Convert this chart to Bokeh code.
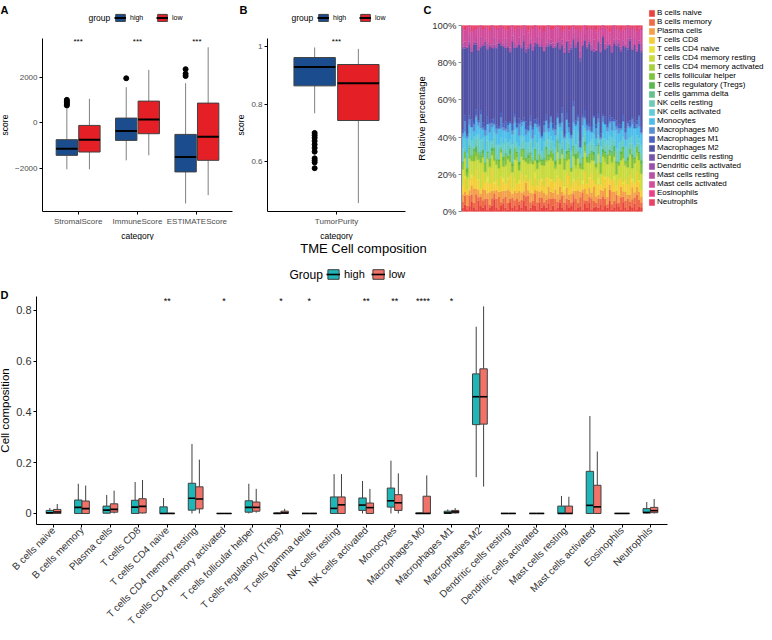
import numpy as np
from bokeh.plotting import figure
from bokeh.models import (ColumnDataSource, Legend, LegendItem, Label, FixedTicker,
                          Range1d, NumeralTickFormatter)
from bokeh.layouts import column, row
from bokeh.embed import file_html
from bokeh.resources import INLINE

FONT = "Liberation Sans"
HIGH_AB = "#1b4d8e"
LOW_AB = "#e41f26"
HIGH_D = "#1fb6b8"
LOW_D = "#f07268"

# ---------------- Panel A data (ESTIMATE scores) ----------------
a_categories = ["StromalScore", "ImmuneScore", "ESTIMATEScore"]
a_high_lo = [-2050, -1656, -3560]
a_high_q1 = [-1437, -777, -2168]
a_high_med = [-1143, -366, -1509]
a_high_q3 = [-747, 205, -513]
a_high_hi = [615, 1568, 1745]
a_low_lo = [-2050, -1436, -3194]
a_low_q1 = [-1290, -483, -1656]
a_low_med = [-747, 147, -615]
a_low_q3 = [-117, 954, 866]
a_low_hi = [1055, 2330, 3327]
a_out_cat = [0, 0, 0, 0, 0, 1, 2, 2, 2]
a_out_val = [1010, 950, 880, 820, 760, 1960, 2060, 2160, 2360]
a_sig = ["***", "***", "***"]
a_ticks = [-2000, 0, 2000]

# ---------------- Panel B data (Tumor purity) ----------------
b_categories = ["TumorPurity"]
b_high = dict(lo=[0.768], q1=[0.863], med=[0.928], q3=[0.961], hi=[0.996])
b_low = dict(lo=[0.457], q1=[0.743], med=[0.872], q3=[0.937], hi=[0.991])
b_out_val = [0.700, 0.692, 0.683, 0.672, 0.660, 0.648, 0.635, 0.612, 0.605, 0.598, 0.578]
b_sig = ["***"]
b_ticks = [0.6, 0.8, 1.0]

# ---------------- Panel C data (relative composition per sample, %) ----------------
cell_types = ["B cells naive", "B cells memory", "Plasma cells", "T cells CD8",
              "T cells CD4 naive", "T cells CD4 memory resting",
              "T cells CD4 memory activated", "T cells follicular helper",
              "T cells regulatory (Tregs)", "T cells gamma delta", "NK cells resting",
              "NK cells activated", "Monocytes", "Macrophages M0", "Macrophages M1",
              "Macrophages M2", "Dendritic cells resting", "Dendritic cells activated",
              "Mast cells resting", "Mast cells activated", "Eosinophils", "Neutrophils"]
cell_colors = ["#e8433f", "#ee6b4a", "#f4a04a", "#f3cf3a", "#e8e43f", "#c9db3d",
               "#a8cf3e", "#7dc241", "#5cb84c", "#66c08c", "#6ccbb8", "#5fccd8",
               "#4dbdeb", "#5a8fd4", "#4a62c0", "#5152a6", "#7455aa", "#9a4faa",
               "#b850a4", "#d24e9d", "#e8418a", "#e84367"]

b_naive = [2, 4, 1, 3, 5, 2, 1, 6, 3, 2, 4, 1, 2, 3, 7, 2, 1, 3, 4, 2, 1, 5, 2, 3, 1, 4, 2, 6, 3, 1, 2, 4, 3, 1, 5, 2, 3, 2, 4, 1,
           3, 1, 2, 5, 2, 1, 4, 2, 3, 6, 1, 2, 3, 1, 4, 2, 5, 1, 2, 3, 2, 4, 1, 3, 2, 6, 1, 2, 4, 3, 1, 5, 2, 1, 3, 2, 4, 1, 3, 2]
b_memory = [3, 5, 2, 6, 4, 3, 8, 2, 5, 4, 3, 6, 2, 4, 3, 5, 7, 2, 3, 6, 4, 2, 5, 3, 6, 2, 4, 3, 5, 8, 3, 2, 6, 4, 3, 5, 2, 4, 3, 6,
            4, 6, 3, 2, 7, 4, 3, 5, 2, 4, 6, 3, 5, 9, 2, 4, 3, 6, 4, 2, 5, 3, 7, 4, 2, 6, 3, 4, 5, 2, 7, 3, 4, 6, 2, 5, 3, 8, 4, 3]
plasma = [4, 2, 6, 3, 5, 8, 3, 4, 2, 6, 5, 3, 7, 4, 2, 5, 3, 6, 4, 3, 8, 4, 2, 5, 3, 6, 4, 2, 7, 3, 5, 4, 2, 6, 3, 4, 5, 3, 6, 4,
          3, 5, 4, 7, 2, 4, 6, 3, 5, 2, 4, 7, 3, 2, 6, 4, 5, 3, 8, 4, 2, 5, 3, 6, 4, 3, 7, 5, 2, 4, 6, 3, 5, 2, 4, 7, 3, 4, 5, 3]
cd8 = [5, 8, 3, 6, 4, 7, 10, 5, 3, 9, 4, 6, 5, 12, 4, 6, 3, 8, 5, 4, 6, 9, 3, 7, 5, 4, 10, 6, 3, 5, 8, 4, 6, 3, 7, 5, 4, 9, 5, 6,
       7, 4, 9, 5, 6, 3, 8, 11, 4, 6, 5, 7, 4, 3, 9, 6, 5, 10, 4, 7, 6, 3, 8, 5, 11, 4, 6, 7, 3, 9, 5, 4, 7, 6, 10, 3, 5, 8, 6, 4]
cd4_naive = [0, 1, 0, 0, 2, 0, 0, 1, 0, 0, 0, 3, 0, 0, 1, 0, 0, 0, 2, 0, 1, 0, 0, 0, 0, 2, 0, 0, 1, 0, 0, 0, 3, 0, 0, 1, 0, 0, 0, 1,
             0, 0, 1, 0, 0, 2, 0, 0, 0, 1, 0, 0, 0, 2, 0, 0, 1, 0, 0, 0, 3, 0, 0, 1, 0, 0, 0, 2, 0, 0, 0, 1, 0, 0, 0, 2, 0, 0, 1, 0]
cd4_mem_rest = [8, 10, 6, 12, 7, 9, 5, 11, 14, 8, 6, 10, 9, 7, 12, 8, 10, 13, 6, 9, 11, 7, 8, 10, 12, 6, 9, 11, 7, 10, 8, 12, 6, 9, 10, 7, 11, 8, 9, 12,
                10, 7, 12, 8, 15, 9, 6, 10, 8, 13, 7, 11, 9, 6, 10, 12, 8, 7, 11, 9, 13, 6, 10, 8, 7, 12, 9, 11, 6, 8, 10, 13, 7, 9, 11, 6, 10, 8, 12, 9]
cd4_mem_act = [0, 0, 1, 0, 0, 0, 2, 0, 0, 0, 0, 0, 1, 0, 0, 0, 0, 0, 0, 1, 0, 0, 0, 0, 2, 0, 0, 0, 0, 0, 1, 0, 0, 0, 0, 0, 0, 1, 0, 0,
               0, 1, 0, 0, 0, 0, 1, 0, 0, 0, 2, 0, 0, 0, 1, 0, 0, 0, 0, 1, 0, 0, 0, 2, 0, 0, 1, 0, 0, 0, 0, 0, 1, 0, 0, 0, 0, 2, 0, 0]
tfh = [3, 4, 2, 5, 3, 6, 2, 4, 3, 2, 5, 3, 4, 2, 6, 3, 4, 2, 3, 5, 2, 4, 3, 6, 2, 3, 4, 5, 2, 3, 4, 2, 5, 3, 4, 2, 3, 5, 2, 4,
       4, 2, 5, 3, 2, 6, 3, 4, 2, 5, 3, 4, 2, 6, 3, 2, 5, 4, 3, 2, 4, 6, 2, 3, 5, 2, 4, 3, 6, 2, 3, 5, 2, 4, 3, 6, 2, 3, 4, 5]
tregs = [1, 0, 2, 1, 0, 1, 3, 0, 1, 2, 0, 1, 0, 2, 1, 0, 1, 0, 2, 1, 0, 3, 1, 0, 1, 2, 0, 1, 0, 2, 1, 0, 1, 2, 0, 1, 0, 2, 1, 0,
         0, 2, 1, 0, 1, 0, 2, 1, 0, 1, 3, 0, 1, 0, 2, 1, 0, 1, 2, 0, 1, 0, 2, 1, 0, 1, 0, 3, 1, 0, 2, 1, 0, 1, 0, 2, 1, 0, 1, 2]
gamma_delta = [0, 0, 0, 1, 0, 0, 0, 0, 2, 0, 0, 0, 0, 0, 1, 0, 0, 0, 0, 0, 0, 0, 1, 0, 0, 0, 0, 0, 0, 1, 0, 0, 0, 0, 0, 0, 1, 0, 0, 0,
               0, 0, 1, 0, 0, 0, 0, 2, 0, 0, 0, 0, 0, 1, 0, 0, 0, 0, 0, 0, 1, 0, 0, 0, 0, 0, 2, 0, 0, 0, 0, 0, 0, 1, 0, 0, 0, 0, 0, 1]
nk_rest = [4, 2, 6, 3, 5, 1, 4, 7, 2, 5, 3, 6, 4, 2, 5, 3, 7, 2, 4, 6, 3, 2, 5, 4, 3, 6, 2, 5, 4, 3, 6, 2, 4, 5, 3, 2, 6, 4, 3, 5,
           3, 5, 2, 6, 4, 3, 5, 2, 7, 4, 2, 5, 3, 6, 4, 2, 5, 3, 4, 6, 2, 4, 5, 3, 6, 2, 4, 3, 5, 7, 3, 4, 2, 5, 3, 6, 4, 2, 5, 3]
nk_act = [3, 5, 2, 4, 3, 6, 2, 3, 5, 2, 4, 3, 6, 2, 3, 5, 2, 4, 3, 2, 5, 3, 4, 6, 2, 3, 5, 2, 4, 3, 2, 5, 3, 4, 6, 2, 3, 4, 5, 3,
          4, 2, 5, 3, 6, 2, 4, 3, 2, 5, 3, 6, 2, 4, 3, 5, 2, 3, 6, 4, 2, 5, 3, 4, 2, 6, 3, 5, 2, 4, 3, 2, 6, 4, 3, 5, 2, 4, 3, 5]
monocytes = [6, 4, 8, 5, 7, 3, 9, 5, 6, 4, 8, 6, 5, 7, 4, 6, 8, 5, 7, 4, 6, 9, 5, 4, 7, 6, 5, 8, 4, 6, 7, 5, 6, 8, 4, 7, 5, 6, 4, 8,
             5, 7, 4, 9, 5, 6, 8, 4, 7, 5, 10, 6, 4, 7, 5, 8, 6, 4, 9, 5, 7, 4, 6, 8, 5, 7, 4, 6, 10, 5, 6, 8, 4, 7, 5, 6, 9, 4, 7, 6]
mac_m0 = [2, 6, 1, 3, 0, 4, 1, 2, 8, 1, 3, 0, 5, 2, 1, 3, 0, 6, 2, 1, 4, 0, 2, 3, 1, 7, 2, 0, 3, 1, 2, 5, 0, 2, 3, 1, 4, 0, 2, 3,
          1, 3, 0, 2, 5, 1, 0, 3, 2, 9, 1, 2, 0, 4, 1, 3, 2, 0, 1, 6, 2, 1, 3, 0, 2, 1, 5, 0, 2, 3, 1, 0, 4, 2, 1, 3, 0, 2, 6, 1]
mac_m1 = [2, 3, 1, 2, 4, 2, 3, 1, 2, 3, 2, 4, 1, 2, 3, 2, 1, 3, 2, 4, 2, 1, 3, 2, 2, 3, 1, 2, 4, 2, 3, 1, 2, 3, 2, 1, 2, 3, 2, 1,
          3, 2, 2, 1, 3, 2, 4, 2, 1, 3, 2, 2, 3, 1, 4, 2, 2, 3, 1, 2, 3, 2, 1, 4, 2, 3, 2, 1, 3, 2, 2, 4, 2, 1, 3, 2, 3, 2, 1, 3]
mac_m2 = [42, 38, 46, 40, 36, 44, 34, 39, 35, 41, 45, 37, 43, 38, 40, 42, 46, 36, 41, 39, 44, 37, 42, 35, 40, 43, 38, 41, 36, 44, 39, 42, 37, 40, 43, 45, 38, 36, 41, 39,
          40, 43, 37, 41, 35, 44, 38, 42, 46, 36, 39, 41, 45, 38, 37, 42, 44, 40, 36, 43, 38, 45, 41, 37, 42, 39, 35, 43, 40, 44, 41, 37, 45, 39, 42, 38, 40, 36, 43, 41]
dc_rest = [0, 1, 0, 0, 0, 0, 1, 0, 0, 0, 2, 0, 0, 0, 0, 1, 0, 0, 0, 0, 0, 1, 0, 0, 0, 0, 0, 1, 0, 0, 0, 0, 2, 0, 0, 0, 0, 0, 1, 0,
           0, 0, 0, 1, 0, 0, 0, 0, 1, 0, 0, 0, 2, 0, 0, 0, 1, 0, 0, 0, 0, 0, 0, 0, 1, 0, 0, 0, 0, 2, 0, 0, 0, 1, 0, 0, 0, 0, 0, 1]
dc_act = [1, 0, 0, 2, 0, 1, 0, 0, 1, 0, 0, 0, 1, 0, 2, 0, 0, 1, 0, 0, 1, 0, 0, 0, 1, 0, 0, 0, 2, 0, 0, 1, 0, 0, 0, 1, 0, 0, 0, 1,
          0, 1, 0, 0, 1, 0, 0, 2, 0, 0, 1, 0, 0, 0, 0, 1, 0, 0, 2, 0, 0, 1, 0, 0, 0, 0, 1, 0, 0, 0, 2, 0, 0, 0, 1, 0, 0, 1, 0, 0]
mast_rest = [2, 3, 1, 4, 2, 1, 3, 2, 5, 1, 2, 3, 1, 2, 4, 2, 3, 1, 2, 5, 1, 2, 3, 2, 1, 4, 2, 3, 1, 2, 3, 2, 1, 4, 2, 3, 1, 2, 3, 2,
             3, 1, 2, 4, 2, 3, 1, 5, 2, 3, 1, 2, 4, 2, 3, 1, 2, 3, 5, 1, 2, 4, 1, 3, 2, 1, 3, 2, 4, 2, 1, 3, 2, 5, 1, 2, 3, 1, 2, 4]
mast_act = [8, 6, 10, 5, 9, 7, 4, 11, 6, 8, 5, 9, 7, 10, 6, 8, 5, 9, 7, 6, 8, 11, 5, 7, 9, 6, 8, 5, 10, 7, 6, 9, 8, 5, 7, 6, 10, 8, 7, 6,
            7, 9, 6, 8, 5, 10, 7, 6, 9, 5, 8, 6, 11, 7, 5, 9, 6, 8, 7, 10, 6, 8, 5, 9, 7, 6, 10, 8, 5, 7, 9, 6, 8, 7, 5, 10, 6, 9, 7, 8]
eosinophils = [0, 1, 0, 0, 0, 1, 0, 0, 0, 0, 1, 0, 0, 0, 0, 0, 1, 0, 0, 0, 0, 0, 0, 1, 0, 0, 0, 0, 0, 1, 0, 0, 0, 0, 1, 0, 0, 0, 0, 0,
               0, 0, 1, 0, 0, 0, 0, 1, 0, 0, 0, 0, 0, 1, 0, 0, 0, 0, 0, 1, 0, 0, 0, 0, 0, 1, 0, 0, 0, 0, 0, 1, 0, 0, 0, 0, 0, 0, 1, 0]
neutrophils = [1, 2, 1, 0, 3, 1, 2, 1, 0, 2, 1, 1, 3, 0, 1, 2, 1, 0, 2, 1, 3, 1, 0, 2, 1, 1, 2, 0, 1, 3, 1, 2, 0, 1, 2, 1, 3, 1, 0, 2,
               2, 1, 0, 1, 3, 2, 1, 2, 1, 0, 2, 1, 3, 1, 0, 2, 1, 2, 1, 3, 1, 2, 0, 1, 2, 3, 1, 0, 2, 1, 3, 1, 2, 0, 1, 2, 1, 3, 1, 2]

c_series = [b_naive, b_memory, plasma, cd8, cd4_naive, cd4_mem_rest, cd4_mem_act, tfh,
            tregs, gamma_delta, nk_rest, nk_act, monocytes, mac_m0, mac_m1, mac_m2,
            dc_rest, dc_act, mast_rest, mast_act, eosinophils, neutrophils]
c_ticks = [0, 0.2, 0.4, 0.6, 0.8, 1.0]

# ---------------- Panel D data (box statistics per cell type) ----------------
d_cells = cell_types
d_high_lo = [0, 0, 0, 0, 0, 0, 0, 0, 0, 0, 0, 0, 0, 0, 0, 0.143, 0, 0, 0, 0, 0, 0]
d_high_q1 = [0, 0, 0.001, 0, 0, 0.013, 0, 0.005, 0, 0, 0, 0.012, 0.025, 0, 0, 0.350, 0, 0, 0, 0, 0, 0.002]
d_high_med = [0.003, 0.024, 0.013, 0.025, 0, 0.060, 0, 0.024, 0, 0, 0.020, 0.033, 0.050, 0, 0.002, 0.460, 0, 0, 0, 0.032, 0, 0.004]
d_high_q3 = [0.012, 0.053, 0.029, 0.052, 0.026, 0.119, 0, 0.050, 0.002, 0, 0.065, 0.061, 0.100, 0.002, 0.009, 0.550, 0, 0, 0.029, 0.166, 0, 0.019]
d_high_hi = [0.021, 0.117, 0.073, 0.124, 0.061, 0.274, 0, 0.117, 0.004, 0, 0.155, 0.128, 0.208, 0.004, 0.016, 0.736, 0, 0, 0.069, 0.384, 0, 0.045]
d_low_lo = [0, 0, 0, 0, 0, 0, 0, 0.003, 0, 0, 0, 0, 0, 0, 0, 0.106, 0, 0, 0, 0, 0, 0]
d_low_q1 = [0, 0, 0.005, 0.002, 0, 0.018, 0, 0.009, 0, 0, 0, 0, 0.012, 0, 0.002, 0.352, 0, 0, 0, 0, 0, 0.003]
d_low_med = [0.006, 0.019, 0.016, 0.028, 0, 0.057, 0, 0.024, 0.002, 0, 0.034, 0.023, 0.042, 0, 0.006, 0.460, 0, 0, 0, 0.026, 0, 0.011]
d_low_q3 = [0.016, 0.049, 0.038, 0.058, 0.001, 0.105, 0, 0.045, 0.009, 0, 0.065, 0.041, 0.074, 0.068, 0.012, 0.570, 0, 0, 0.029, 0.111, 0, 0.024]
d_low_hi = [0.037, 0.110, 0.090, 0.132, 0.002, 0.212, 0, 0.097, 0.018, 0, 0.155, 0.097, 0.158, 0.150, 0.021, 0.816, 0, 0, 0.066, 0.244, 0, 0.057]
d_sig_idx = [4, 6, 8, 9, 11, 12, 13, 14]
d_sig_lab = ["**", "*", "*", "*", "**", "**", "****", "*"]
d_ticks = [0, 0.2, 0.4, 0.6, 0.8]


def region_fig(fx, fy, W, H, region, dx, dy):
    """Figure whose frame fills the whole canvas; the data panel occupies `region`
    (page pixels: left, right, top, bottom) and axes are pinned to the panel edges."""
    x0, x1, y0, y1 = region
    sx = (x1 - x0) / (dx[1] - dx[0])
    sy = (y1 - y0) / (dy[1] - dy[0])
    xr = Range1d(dx[0] - (x0 - fx) / sx, dx[1] + (fx + W - x1) / sx)
    yr = Range1d(dy[0] - (fy + H - y1) / sy, dy[1] + (y0 - fy) / sy)
    p = figure(width=W, height=H, x_range=xr, y_range=yr, output_backend="svg",
               toolbar_location=None, min_border=0)
    p.grid.visible = False
    p.outline_line_color = None
    p.xaxis.fixed_location = dy[0]
    p.xaxis.bounds = (dx[0], dx[1])
    p.yaxis.fixed_location = dx[0]
    p.yaxis.bounds = (dy[0], dy[1])
    p._page = (fx, fy, W, H)
    return p


def style_axes(p, tick_size, title_size, line_color="black", label_color="#4d4d4d"):
    for ax in p.axis:
        ax.axis_line_color = line_color
        ax.major_tick_line_color = line_color
        ax.minor_tick_line_color = None
        ax.major_tick_out = 3
        ax.major_tick_in = 0
        ax.major_label_text_font = FONT
        ax.major_label_text_font_size = tick_size
        ax.major_label_text_color = label_color
        ax.axis_label_text_font = FONT
        ax.axis_label_text_font_size = title_size
        ax.axis_label_text_font_style = "normal"
        ax.axis_label_text_color = "black"
        ax.major_label_standoff = 2
        ax.axis_label_standoff = 2


def draw_boxes(p, centers, lo, q1, med, q3, hi, fill, width, edge, whisk, med_w):
    left = [c - width / 2 for c in centers]
    right = [c + width / 2 for c in centers]
    src = ColumnDataSource(dict(x=centers, lo=lo, q1=q1, med=med, q3=q3, hi=hi,
                                left=left, right=right))
    p.segment(x0="x", y0="q3", x1="x", y1="hi", source=src, line_color=whisk, line_width=1)
    p.segment(x0="x", y0="lo", x1="x", y1="q1", source=src, line_color=whisk, line_width=1)
    box = p.vbar(x="x", width=width, bottom="q1", top="q3", source=src,
                 fill_color=fill, line_color=edge, line_width=1)
    med_r = p.segment(x0="left", y0="med", x1="right", y1="med", source=src,
                      line_color="black", line_width=med_w)
    return box, med_r


def add_label(p, text, px, py, size, bold=False, align="left", baseline="top"):
    fx, fy, W, H = p._page
    p.add_layout(Label(x=px - fx, y=fy + H - py, x_units="screen", y_units="screen",
                       text=text, text_font=FONT, text_font_size=size,
                       text_font_style="bold" if bold else "normal",
                       text_align=align, text_baseline=baseline, text_color="black"))


def add_legend(p, items, px, py_bottom, gw, gh, size, standoff, spacing, orientation="horizontal"):
    fx, fy, W, H = p._page
    leg = Legend(items=items, orientation=orientation,
                 location=(px - fx, fy + H - py_bottom),
                 glyph_width=gw, glyph_height=gh, label_height=gh, label_standoff=standoff,
                 spacing=spacing, padding=0, margin=0, border_line_color=None,
                 background_fill_alpha=0, label_text_font=FONT, label_text_font_size=size,
                 label_text_color="black")
    p.add_layout(leg)


OFF = 0.19
BW = 0.36

# ---------------- Panel A ----------------
pA = region_fig(2, 2, 234, 240, (44, 234, 40, 213), (-0.6, 2.6), (-3912, 3714))
xa = np.arange(len(a_categories))
bAh, mAh = draw_boxes(pA, list(xa - OFF), a_high_lo, a_high_q1, a_high_med, a_high_q3, a_high_hi,
                      HIGH_AB, BW, "#404040", "#808080", 2)
bAl, mAl = draw_boxes(pA, list(xa + OFF), a_low_lo, a_low_q1, a_low_med, a_low_q3, a_low_hi,
                      LOW_AB, BW, "#404040", "#808080", 2)
pA.scatter(x=[c - OFF for c in a_out_cat], y=a_out_val, size=5, color="black")
pA.text(x=list(xa), y=[3560] * 3, text=a_sig, text_font_size="8px", text_align="center",
        text_baseline="middle", text_color="black")
pA.xaxis.ticker = FixedTicker(ticks=list(xa))
pA.xaxis.major_label_overrides = {int(i): c for i, c in enumerate(a_categories)}
pA.yaxis.ticker = FixedTicker(ticks=a_ticks)
pA.xaxis.axis_label = "category"
pA.yaxis.axis_label = "score"
style_axes(pA, "8px", "8.5px")
add_label(pA, "A", 2, 5, "11px", bold=True)
add_label(pA, "group", 90, 19, "8.5px", baseline="middle")
add_legend(pA, [LegendItem(label="high", renderers=[bAh, mAh]),
                LegendItem(label="low", renderers=[bAl, mAl])],
           116, 24, 12, 9, "7px", 4, 6)

# ---------------- Panel B ----------------
pB = region_fig(236, 2, 182, 240, (269, 407, 40, 213), (-0.6, 0.6), (0.428, 1.027))
bBh, mBh = draw_boxes(pB, [-OFF], b_high["lo"], b_high["q1"], b_high["med"], b_high["q3"],
                      b_high["hi"], HIGH_AB, BW, "#404040", "#808080", 2)
bBl, mBl = draw_boxes(pB, [OFF], b_low["lo"], b_low["q1"], b_low["med"], b_low["q3"],
                      b_low["hi"], LOW_AB, BW, "#404040", "#808080", 2)
pB.scatter(x=[-OFF] * len(b_out_val), y=b_out_val, size=5, color="black")
pB.text(x=[0], y=[1.016], text=b_sig, text_font_size="8px", text_align="center",
        text_baseline="middle", text_color="black")
pB.xaxis.ticker = FixedTicker(ticks=[0])
pB.xaxis.major_label_overrides = {0: b_categories[0]}
pB.yaxis.ticker = FixedTicker(ticks=b_ticks)
pB.xaxis.axis_label = "category"
pB.yaxis.axis_label = "score"
style_axes(pB, "8px", "8.5px")
add_label(pB, "B", 241, 5, "11px", bold=True)
add_label(pB, "group", 293, 19, "8.5px", baseline="middle")
add_legend(pB, [LegendItem(label="high", renderers=[bBh, mBh]),
                LegendItem(label="low", renderers=[bBl, mBl])],
           319, 24, 12, 9, "7px", 4, 6)

# ---------------- Panel C ----------------
n_samples = len(b_naive)
totals = np.sum(np.array(c_series, dtype=float), axis=0)
c_data = {"sample": list(range(n_samples))}
for name, vals in zip(cell_types, c_series):
    c_data[name] = list(np.array(vals, dtype=float) / totals)
pC = region_fig(418, 2, 348, 240, (463, 644, 27, 213), (-0.5, n_samples - 0.5), (0, 1))
c_rends = pC.vbar_stack(cell_types, x="sample", width=1.0, color=cell_colors,
                        line_width=0.2, source=ColumnDataSource(c_data))
pC.xaxis.visible = False
pC.yaxis.ticker = FixedTicker(ticks=c_ticks)
pC.yaxis.formatter = NumeralTickFormatter(format="0%")
pC.yaxis.axis_label = "Relative percentage"
style_axes(pC, "9.5px", "9.5px", line_color="#8c8c8c", label_color="#333333")
add_label(pC, "C", 425, 5, "11px", bold=True)
add_legend(pC, [LegendItem(label=n, renderers=[r]) for n, r in zip(cell_types, c_rends)],
           650, 208, 7, 8, "8px", 2, 0, orientation="vertical")

# ---------------- Panel D ----------------
DOFF = 0.13
DW = 0.26
xd = np.arange(len(d_cells))
pD = region_fig(2, 242, 764, 390, (38, 669, 298, 526), (-0.6, len(d_cells) - 0.4),
                (-0.0435, 0.855))
bDh, mDh = draw_boxes(pD, list(xd - DOFF), d_high_lo, d_high_q1, d_high_med, d_high_q3, d_high_hi,
                      HIGH_D, DW, "#404040", "#404040", 1.6)
bDl, mDl = draw_boxes(pD, list(xd + DOFF), d_low_lo, d_low_q1, d_low_med, d_low_q3, d_low_hi,
                      LOW_D, DW, "#404040", "#404040", 1.6)
pD.text(x=d_sig_idx, y=[0.836] * len(d_sig_idx), text=d_sig_lab, text_font_size="9px",
        text_align="center", text_baseline="middle", text_color="black")
pD.xaxis.ticker = FixedTicker(ticks=list(xd))
pD.xaxis.major_label_overrides = {int(i): c for i, c in enumerate(d_cells)}
pD.xaxis.major_label_orientation = np.pi / 4
pD.yaxis.ticker = FixedTicker(ticks=d_ticks)
pD.yaxis.axis_label = "Cell composition"
style_axes(pD, "11px", "11.5px", label_color="#333333")
pD.xaxis.major_label_text_font_size = "10px"
pD.xaxis.major_label_standoff = 1
add_label(pD, "D", 2, 290, "11px", bold=True)
add_label(pD, "TME Cell composition", 365, 250, "13px", align="center", baseline="middle")
add_label(pD, "Group", 291, 276, "12px", baseline="middle")
add_legend(pD, [LegendItem(label="high", renderers=[bDh, mDh]),
                LegendItem(label="low", renderers=[bDl, mDl])],
           328, 282, 14, 12, "11px", 4, 6)

layout = column(row(pA, pB, pC), pD)
open("out.html", "w").write(file_html(layout, INLINE))
